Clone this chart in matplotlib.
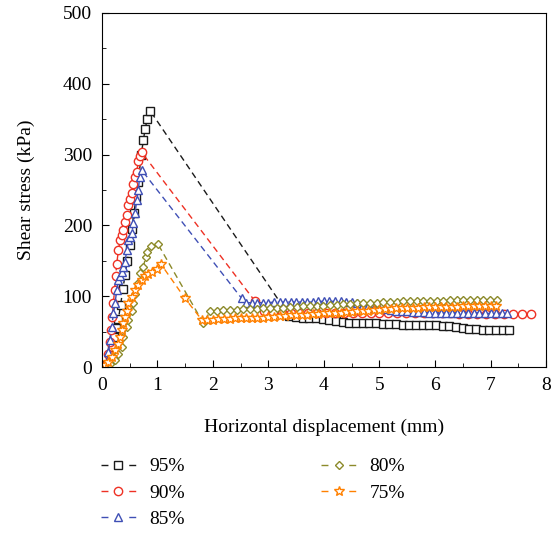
import matplotlib.pyplot as plt

plt.rcParams['font.family'] = ['Liberation Serif', 'DejaVu Serif']
plt.rcParams['font.size'] = 14

# 95% compaction
x95 = [0.10, 0.14, 0.18, 0.22, 0.26, 0.30, 0.34, 0.38, 0.42, 0.46, 0.50, 0.54, 0.58, 0.62, 0.66, 0.71, 0.75, 0.78, 0.82, 0.87,
       3.38, 3.50, 3.62, 3.74, 3.86, 3.98, 4.10, 4.22, 4.34, 4.46, 4.58, 4.70, 4.82, 4.94, 5.06, 5.18, 5.30,
       5.42, 5.54, 5.66, 5.78, 5.90, 6.02, 6.14, 6.26, 6.38, 6.50, 6.62, 6.74, 6.86, 6.98, 7.10, 7.22, 7.34]
y95 = [3, 14, 28, 42, 55, 68, 88, 110, 130, 150, 172, 195, 218, 240, 262, 300, 320, 336, 350, 362,
       72, 71, 70, 70, 69, 68, 67, 65, 64, 63, 63, 62, 62, 62, 61, 61, 61,
       60, 60, 60, 59, 59, 59, 58, 58, 57, 55, 54, 54, 53, 53, 53, 53, 53]

# 90%
x90 = [0.10, 0.12, 0.14, 0.17, 0.19, 0.21, 0.23, 0.25, 0.27, 0.30, 0.33, 0.36, 0.39, 0.42, 0.45, 0.48,
       0.51, 0.54, 0.57, 0.60, 0.63, 0.66, 0.69, 0.72,
       2.76, 2.92, 3.08, 3.24, 3.40, 3.56, 3.72, 3.88, 4.04, 4.20, 4.36, 4.52, 4.68, 4.84, 5.00, 5.16,
       5.32, 5.48, 5.64, 5.80, 5.96, 6.12, 6.28, 6.44, 6.60, 6.76, 6.92, 7.08, 7.24, 7.40, 7.56, 7.72]
y90 = [5, 19, 36, 52, 71, 90, 109, 128, 146, 165, 179, 186, 193, 205, 215, 229,
       238, 246, 258, 268, 276, 291, 298, 303,
       93, 80, 78, 77, 77, 76, 76, 76, 77, 77, 77, 77, 76, 76, 76, 76,
       76, 76, 76, 76, 76, 76, 76, 75, 75, 75, 75, 75, 75, 75, 75, 75]

# 85%
x85 = [0.09, 0.12, 0.15, 0.18, 0.21, 0.24, 0.27, 0.30, 0.33, 0.36, 0.39, 0.42, 0.45, 0.48, 0.51, 0.54,
       0.57, 0.60, 0.63, 0.66, 0.68, 0.72,
       2.52, 2.6, 2.7, 2.8, 2.9, 3.0, 3.1, 3.2, 3.3, 3.4, 3.5, 3.6, 3.7, 3.8, 3.9, 4.0, 4.1, 4.2, 4.3,
       4.4, 4.5, 4.6, 4.7, 4.8, 4.9, 5.0, 5.1, 5.2, 5.3, 5.4, 5.5, 5.6, 5.7, 5.8, 5.9, 6.0, 6.1, 6.2,
       6.3, 6.4, 6.5, 6.6, 6.7, 6.8, 6.9, 7.0, 7.1, 7.2, 7.3]
y85 = [8, 22, 39, 57, 76, 90, 109, 123, 128, 134, 142, 149, 165, 179, 184, 189,
       203, 217, 236, 250, 268, 278,
       97, 91, 91, 91, 91, 91, 92, 92, 92, 92, 92, 92, 92, 92, 93, 93, 93, 93, 93,
       92, 92, 90, 88, 86, 84, 83, 82, 81, 80, 79, 79, 78, 78, 78, 77, 77, 77, 77, 77,
       77, 77, 77, 77, 77, 76, 76, 76, 76, 76]

# 80%
x80 = [0.15, 0.24, 0.30, 0.36, 0.39, 0.45, 0.48, 0.54, 0.57, 0.60, 0.66, 0.69, 0.75, 0.79, 0.82, 0.89, 1.01,
       1.83, 1.95, 2.07, 2.19, 2.31, 2.43, 2.55, 2.67, 2.79, 2.91, 3.03, 3.15, 3.27, 3.39, 3.51, 3.63,
       3.75, 3.87, 3.99, 4.11, 4.23, 4.35, 4.47, 4.59, 4.71, 4.83, 4.95, 5.07, 5.19, 5.31, 5.43, 5.55,
       5.67, 5.79, 5.91, 6.03, 6.15, 6.27, 6.39, 6.51, 6.63, 6.75, 6.87, 6.99, 7.11]
y80 = [5, 10, 19, 28, 43, 57, 66, 80, 90, 104, 119, 133, 142, 155, 163, 171, 174,
       62, 79, 80, 81, 81, 81, 82, 82, 82, 83, 83, 84, 84, 85, 85, 86,
       86, 87, 87, 88, 88, 89, 89, 90, 90, 91, 91, 92, 92, 92, 93, 93,
       93, 94, 94, 94, 94, 95, 95, 95, 95, 95, 95, 95, 95]

# 75%
x75 = [0.06, 0.12, 0.18, 0.24, 0.30, 0.33, 0.36, 0.39, 0.42, 0.45, 0.48, 0.54, 0.60, 0.66, 0.72, 0.78,
       0.84, 0.90, 0.99, 1.07, 1.50, 1.81,
       1.9, 2.0, 2.1, 2.2, 2.3, 2.4, 2.5, 2.6, 2.7, 2.8, 2.9, 3.0, 3.1, 3.2, 3.3, 3.4, 3.5, 3.6, 3.7,
       3.8, 3.9, 4.0, 4.1, 4.2, 4.3, 4.4, 4.5, 4.6, 4.7, 4.8, 4.9, 5.0, 5.1, 5.2, 5.3, 5.4, 5.5, 5.6,
       5.7, 5.8, 5.9, 6.0, 6.1, 6.2, 6.3, 6.4, 6.5, 6.6, 6.7, 6.8, 6.9, 7.0, 7.1]
y75 = [3, 8, 15, 24, 33, 43, 52, 62, 71, 80, 90, 99, 109, 116, 123, 128,
       132, 135, 139, 145, 97, 66,
       67, 67, 68, 68, 68, 69, 69, 69, 70, 70, 70, 71, 71, 72, 72, 73, 73, 74, 74,
       75, 75, 76, 76, 77, 77, 78, 78, 79, 79, 80, 81, 81, 82, 82, 83, 83, 84, 84,
       84, 85, 85, 85, 85, 85, 85, 85, 86, 86, 86, 86, 86, 86, 86]

series = [
    (x95, y95, '95%', '#1a1a1a', 's', 5.4),
    (x90, y90, '90%', '#ee3124', 'o', 6.0),
    (x85, y85, '85%', '#3f4fb5', '^', 6.4),
    (x80, y80, '80%', '#8c8a2a', 'D', 4.0),
    (x75, y75, '75%', '#ff8000', '*', 7.6),
]

fig = plt.figure(figsize=(5.59, 5.33), dpi=100)
ax = fig.add_axes([0.182, 0.311, 0.795, 0.665])

for x, y, lab, c, m, ms in series:
    ax.plot(x, y, color=c, lw=1.0, dashes=(4.5, 3), marker=m, ms=ms,
            mfc='white', mec=c, mew=1.0, label=lab)

ax.set_xlim(0, 8)
ax.set_ylim(0, 500)
ax.set_xticks(range(0, 9))
ax.set_xticks([i + 0.5 for i in range(8)], minor=True)
ax.set_yticks(range(0, 501, 100))
ax.set_yticks(range(50, 500, 100), minor=True)
ax.tick_params(which='both', direction='in', top=False, right=False, pad=7)
ax.tick_params(which='major', length=5)
ax.tick_params(which='minor', length=3)
ax.set_xlabel('Horizontal displacement (mm)', labelpad=18)
ax.set_ylabel('Shear stress (kPa)', labelpad=20)

leg = fig.legend(loc='upper left', bbox_to_anchor=(0.149, 0.174), ncol=2, frameon=False,
                 handlelength=1.8, handletextpad=0.7, columnspacing=7.0, labelspacing=0.45)
for line in leg.get_lines():
    line.set_dashes((5, 15))

fig.savefig('out.png', dpi=100)
